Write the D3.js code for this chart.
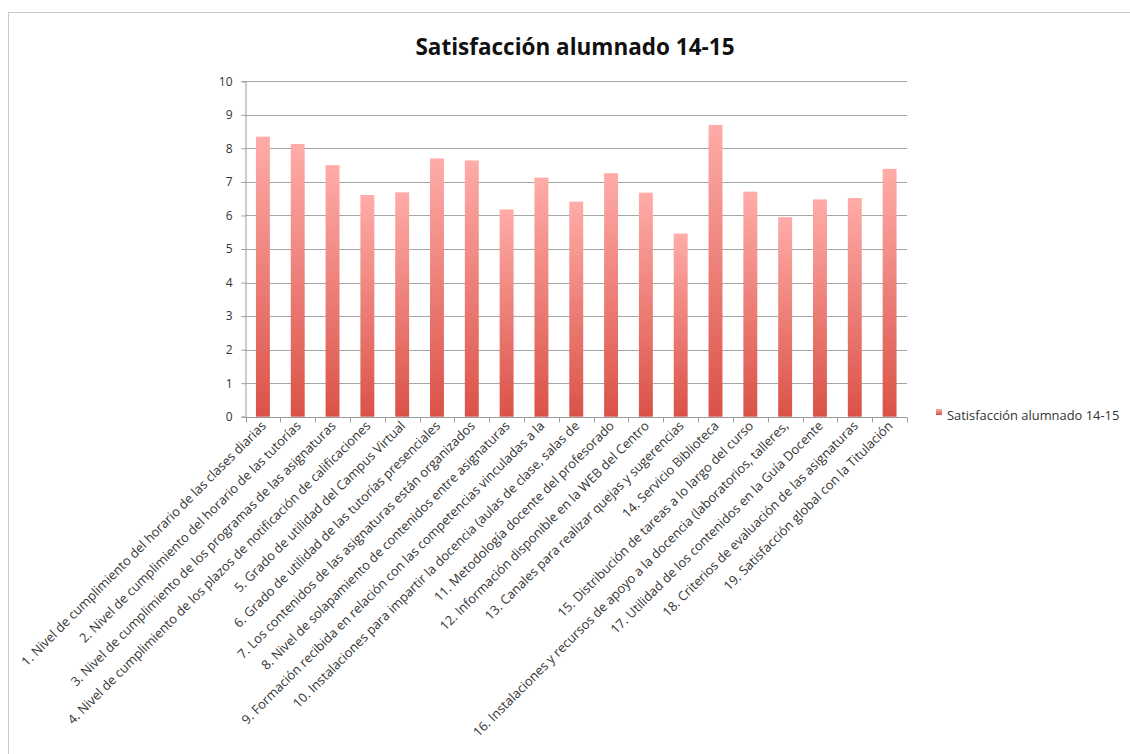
<!DOCTYPE html>
<html><head><meta charset="utf-8">
<script src="https://cdn.jsdelivr.net/npm/d3@7"></script>
<style>
html,body{margin:0;padding:0;background:#fff;}
svg{display:block;font-family:"Open Sans",Lato,sans-serif;}
</style></head>
<body>
<svg id="chart" width="1130" height="754"></svg>
<script>
const title = "Satisfacción alumnado 14-15";
const seriesName = "Satisfacción alumnado 14-15";
const categories = [
 "1. Nivel de cumplimiento del horario de las clases diarias",
 "2. Nivel de cumplimiento del horario de las tutorías",
 "3. Nivel de cumplimiento de los programas de las asignaturas",
 "4. Nivel de cumplimiento de los plazos de notificación de calificaciones",
 "5. Grado de utilidad del Campus Virtual",
 "6. Grado de utilidad de las tutorías presenciales",
 "7. Los contenidos de las asignaturas están organizados",
 "8. Nivel de solapamiento de contenidos entre asignaturas",
 "9. Formación recibida en relación con las competencias vinculadas a la",
 "10. Instalaciones para impartir la docencia (aulas de clase, salas de",
 "11. Metodología docente del profesorado",
 "12. Información disponible en la WEB del Centro",
 "13. Canales para realizar quejas y sugerencias",
 "14. Servicio Biblioteca",
 "15. Distribución de tareas a lo largo del curso",
 "16. Instalaciones y recursos de apoyo a la docencia (laboratorios, talleres,",
 "17. Utilidad de los contenidos en la Guía Docente",
 "18. Criterios de evaluación de las asignaturas",
 "19. Satisfacción global con la Titulación"
];
const values = [8.35, 8.13, 7.50, 6.61, 6.69, 7.70, 7.64, 6.18, 7.13, 6.41, 7.26, 6.68, 5.46, 8.70, 6.71, 5.95, 6.48, 6.52, 7.39];
const yTicks = [0,1,2,3,4,5,6,7,8,9,10];

const svg = d3.select("#chart");
const plot = {left: 245.5, right: 907, top: 81.3, bottom: 416.7};

// outer frame
svg.append("rect").attr("x", 8.5).attr("y", 12.5).attr("width", 1130).attr("height", 760)
  .attr("fill", "none").attr("stroke", "#c9c9c9");

const defs = svg.append("defs");
const grad = defs.append("linearGradient").attr("id", "barGrad")
  .attr("x1", 0).attr("y1", 0).attr("x2", 0).attr("y2", 1);
grad.append("stop").attr("offset", "0%").attr("stop-color", "#ffaca8");
grad.append("stop").attr("offset", "100%").attr("stop-color", "#da5247");

const xb = d3.scaleBand().domain(categories).range([plot.left, plot.right]);
const y = d3.scaleLinear().domain([0, 10]).range([plot.bottom, plot.top]);

// gridlines
svg.append("g").selectAll("line").data(yTicks.filter(d => d > 0)).join("line")
  .attr("x1", plot.left).attr("x2", plot.right)
  .attr("y1", d => Math.round(y(d)) + 0.5).attr("y2", d => Math.round(y(d)) + 0.5)
  .attr("stroke", "#a6a6a6").attr("stroke-width", 1);

// bars
svg.append("g").selectAll("rect").data(values).join("rect")
  .attr("x", (d, i) => xb(categories[i]) + xb.bandwidth() * 0.3)
  .attr("width", xb.bandwidth() * 0.4)
  .attr("y", d => y(d)).attr("height", d => plot.bottom - y(d))
  .attr("fill", "url(#barGrad)");

// y axis
const yAxis = d3.axisLeft(y).tickValues(yTicks).tickSize(4).tickPadding(9).tickFormat(d3.format("d"));
const gy = svg.append("g").attr("transform", `translate(${plot.left},0)`).call(yAxis);
gy.select(".domain").attr("stroke", "#9a9a9a");
gy.selectAll(".tick line").attr("stroke", "#9a9a9a");
gy.selectAll(".tick text").attr("fill", "#333").style("font-size", "12px").style("font-family", "'Open Sans', sans-serif");

// x axis
const xAxis = d3.axisBottom(xb).tickSize(0).tickFormat("");
const gx = svg.append("g").attr("transform", `translate(0,${Math.round(plot.bottom) + 0.5})`).call(xAxis);
gx.select(".domain").attr("stroke", "#9a9a9a").attr("d", `M${plot.left},0H${plot.right}`);
const bounds = categories.map(c => xb(c)).concat([plot.right]);
gx.append("g").selectAll("line").data(bounds).join("line")
  .attr("x1", d => Math.round(d) + 0.5).attr("x2", d => Math.round(d) + 0.5)
  .attr("y1", 0).attr("y2", 5).attr("stroke", "#9a9a9a");

// x labels
svg.append("g").selectAll("text").data(categories).join("text")
  .attr("transform", d => `translate(${xb(d) + xb.bandwidth() / 2 + 4},${plot.bottom + 10}) rotate(-45)`)
  .attr("text-anchor", "end")
  .attr("fill", "#333")
  .style("font-size", "12.9px")
  .text(d => d);

// title
svg.append("text").attr("x", 575).attr("y", 55).attr("text-anchor", "middle")
  .attr("fill", "#111").style("font-size", "22.5px").style("font-weight", "bold")
  .style("font-family", "'Open Sans', sans-serif")
  .text(title);

// legend
const lg = svg.append("g").attr("transform", "translate(936,409)");
lg.append("rect").attr("width", 6).attr("height", 6).attr("fill", "url(#barGrad)");
lg.append("text").attr("x", 11).attr("y", 11).attr("fill", "#333")
  .style("font-size", "12.9px").text(seriesName);
</script>
</body></html>
